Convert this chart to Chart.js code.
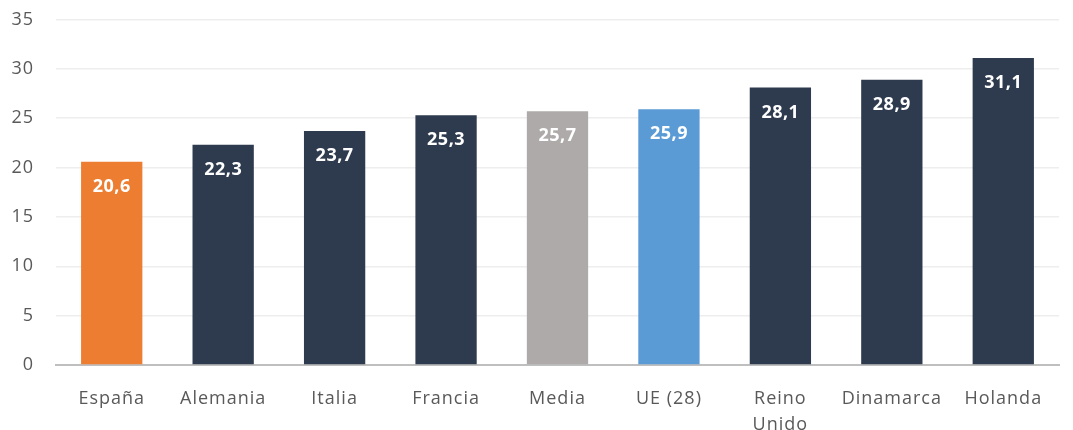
<!DOCTYPE html>
<html>
<head>
<meta charset="utf-8">
<script src="https://cdn.jsdelivr.net/npm/chart.js@4/dist/chart.umd.min.js"></script>
<style>
  html, body { margin: 0; padding: 0; background: #ffffff; }
  #wrap { width: 1073px; height: 430px; }
</style>
</head>
<body>
<div id="wrap"><canvas id="c" width="1073" height="430"></canvas></div>
<script>
// Categories and values
const categories = ['España', 'Alemania', 'Italia', 'Francia', 'Media', 'UE (28)', ['Reino', 'Unido'], 'Dinamarca', 'Holanda'];
const values = [20.6, 22.3, 23.7, 25.3, 25.7, 25.9, 28.1, 28.9, 31.1];
const barColors = ['#ED7D31', '#2E3A4E', '#2E3A4E', '#2E3A4E', '#AEAAAA', '#5B9BD5', '#2E3A4E', '#2E3A4E', '#2E3A4E'];
const yTicks = [0, 5, 10, 15, 20, 25, 30, 35];

const FONT = '"Open Sans", sans-serif';

// Slightly wider tracking for all axis text
const tracking = {
  id: 'tracking',
  beforeUpdate(chart) { chart.ctx.letterSpacing = '1px'; },
  beforeDraw(chart) { chart.ctx.letterSpacing = '1px'; }
};

// Writes each value inside the top of its bar, Spanish decimal comma
const valueLabels = {
  id: 'valueLabels',
  afterDatasetsDraw(chart) {
    const ctx = chart.ctx;
    const meta = chart.getDatasetMeta(0);
    ctx.save();
    ctx.letterSpacing = '0.5px';
    ctx.fillStyle = '#ffffff';
    ctx.font = 'bold 18px ' + FONT;
    ctx.textAlign = 'center';
    ctx.textBaseline = 'middle';
    meta.data.forEach((bar, i) => {
      const txt = values[i].toFixed(1).replace('.', ',');
      ctx.fillText(txt, bar.x, bar.y + 25);
    });
    ctx.restore();
  }
};

new Chart(document.getElementById('c'), {
  type: 'bar',
  data: {
    labels: categories,
    datasets: [{
      data: values,
      backgroundColor: barColors,
      borderWidth: 0,
      barPercentage: 0.55,
      categoryPercentage: 1.0
    }]
  },
  options: {
    responsive: false,
    animation: false,
    layout: { padding: { left: 11, right: 14, top: 19.5, bottom: 0 } },
    plugins: {
      legend: { display: false },
      tooltip: { enabled: false }
    },
    scales: {
      x: {
        grid: { display: false, drawTicks: false },
        border: { color: '#BFBFBF', width: 2 },
        afterFit(scale) {
          scale.height = 65;
          scale.paddingLeft = 0;
          scale.paddingRight = 0;
        },
        ticks: {
          color: '#595959',
          font: { family: FONT, size: 18, lineHeight: 1.45 },
          padding: 21,
          maxRotation: 0,
          autoSkip: false
        }
      },
      y: {
        min: 0,
        max: 35,
        afterBuildTicks(scale) { scale.ticks = yTicks.map(v => ({ value: v })); },
        afterFit(scale) {
          scale.width = 45;
          scale.paddingTop = 0;
          scale.paddingBottom = 0;
        },
        grid: { color: '#EEEEEE', lineWidth: 1.5, drawTicks: false },
        border: { display: false },
        ticks: {
          color: '#595959',
          font: { family: FONT, size: 18 },
          padding: 22
        }
      }
    }
  },
  plugins: [tracking, valueLabels]
});
</script>
</body>
</html>
